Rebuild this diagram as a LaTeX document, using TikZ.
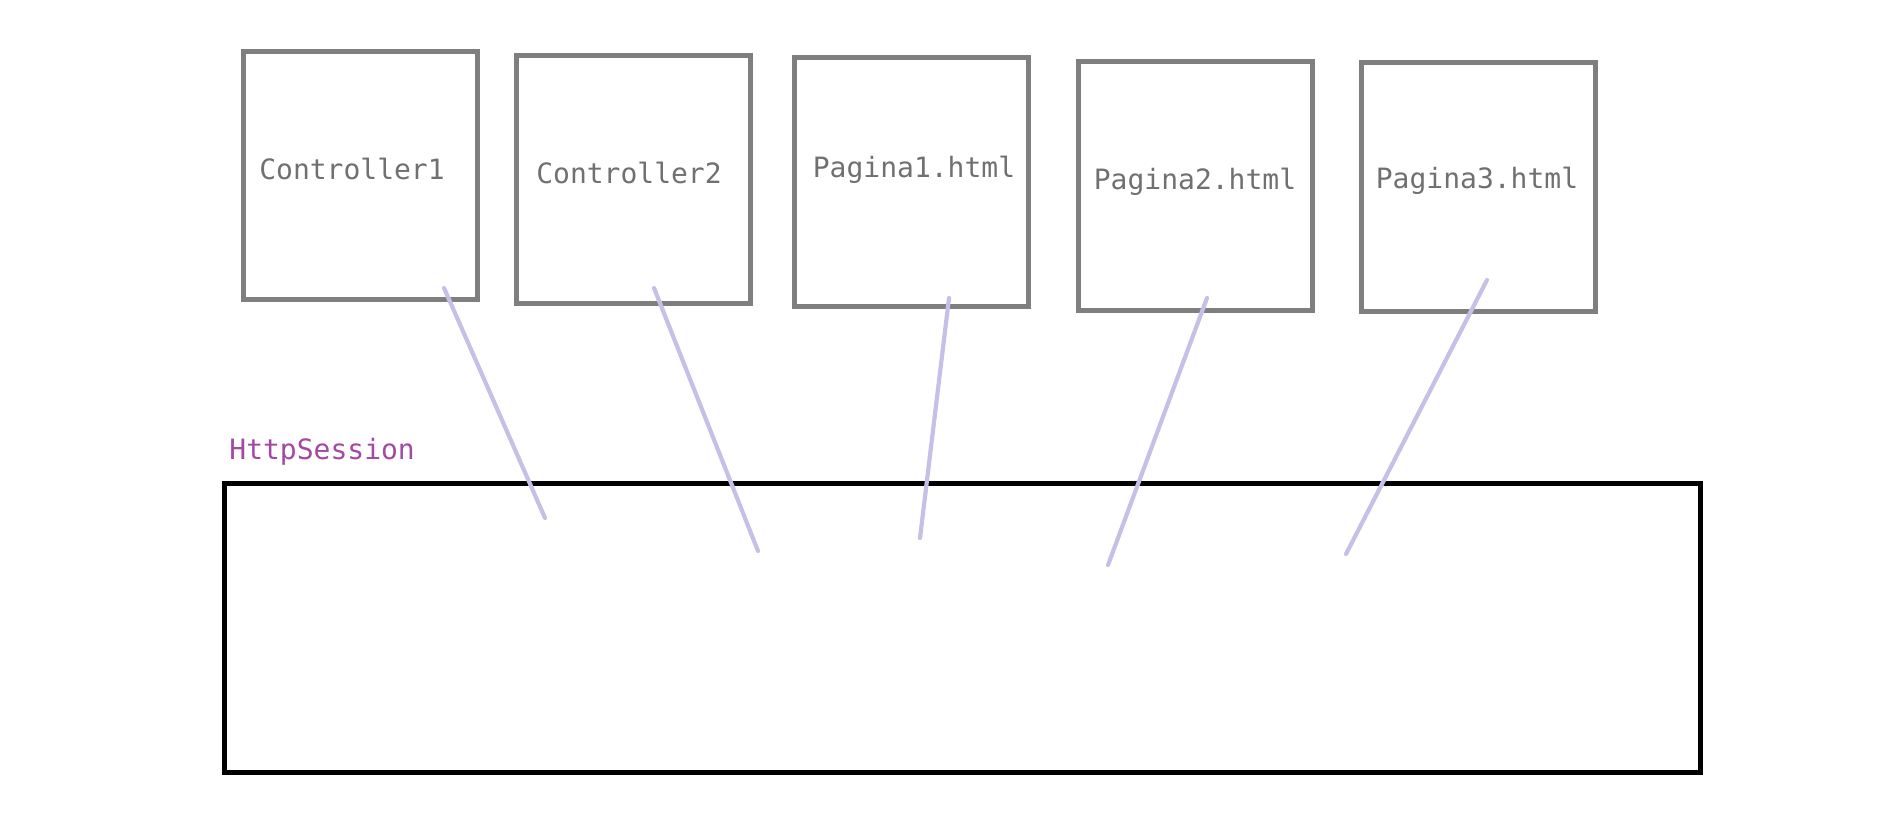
\documentclass[tikz,border=0pt]{standalone}
\usepackage{fontspec}
\setmonofont{DejaVu Sans Mono}
\definecolor{paintgray}{RGB}{127,127,127}
\definecolor{textgray}{RGB}{112,112,112}
\definecolor{lavender}{RGB}{200,191,231}
\definecolor{paintpurple}{RGB}{163,73,164}
\tikzset{
  page/.style={draw=paintgray,line width=2.5pt,minimum width=117pt,minimum height=124pt,inner sep=0pt},
  pagetext/.style={text=textgray,font=\ttfamily\fontsize{14}{16}\selectfont,inner sep=0pt},
  link/.style={draw=lavender,line width=2.1pt,line cap=round}
}
\begin{document}
\begin{tikzpicture}[x=0.5pt,y=-0.5pt]
  \useasboundingbox (0,0) rectangle (1882,824);
  % session
  \node[draw=black,line width=2.5pt,minimum width=738pt,minimum height=144.5pt,inner sep=0pt] (session) at (962,627.5) {};
  \node[anchor=west,inner sep=0pt,text=paintpurple,font=\ttfamily\fontsize{14}{16}\selectfont] (sessionlbl) at (229,452) {HttpSession};
  % controllers and pages
  \node[page] (ctrl1) at (360.5,175.5) {};
  \node[page] (ctrl2) at (633.5,179.5) {};
  \node[page] (pag1) at (911,182) {};
  \node[page] (pag2) at (1195,186) {};
  \node[page] (pag3) at (1478.5,187) {};
  \node[pagetext] (ctrl1txt) at (352,169) {Controller1};
  \node[pagetext] (ctrl2txt) at (629,173) {Controller2};
  \node[pagetext] (pag1txt) at (914,170) {Pagina1.html};
  \node[pagetext] (pag2txt) at (1195,182) {Pagina2.html};
  \node[pagetext] (pag3txt) at (1477,181) {Pagina3.html};
  % links
  \coordinate (c1a) at (444,288);
  \coordinate (c1b) at (545,518);
  \coordinate (c2a) at (654,288);
  \coordinate (c2b) at (758,551);
  \coordinate (p1a) at (949,298);
  \coordinate (p1b) at (920,538);
  \coordinate (p2a) at (1207,298);
  \coordinate (p2b) at (1108,565);
  \coordinate (p3a) at (1487,280);
  \coordinate (p3b) at (1346,554);
  \draw[link] (c1a) -- (c1b);
  \draw[link] (c2a) -- (c2b);
  \draw[link] (p1a) -- (p1b);
  \draw[link] (p2a) -- (p2b);
  \draw[link] (p3a) -- (p3b);
\end{tikzpicture}
\end{document}
